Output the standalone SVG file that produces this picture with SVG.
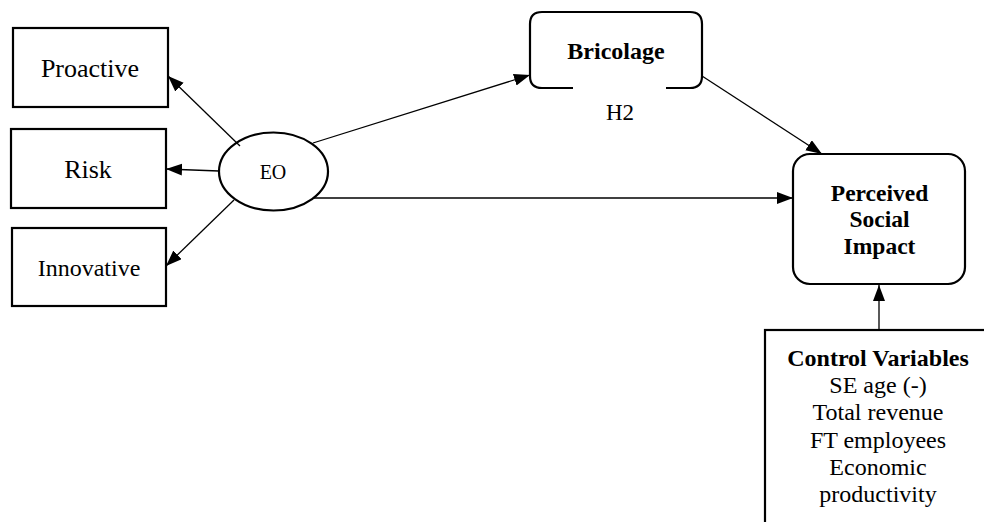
<svg xmlns="http://www.w3.org/2000/svg" width="984" height="522" viewBox="0 0 984 522">
  <style>
    .box { fill: #fff; stroke: #000; stroke-width: 2.2; }
    .edge { stroke: #000; stroke-width: 1.3; fill: none; marker-end: url(#arrow); }
    text { font-family: "Liberation Serif", "Times New Roman", serif; fill: #000; text-anchor: middle; }
    .b { font-weight: bold; }
  </style>
  <defs>
    <marker id="arrow" markerUnits="userSpaceOnUse" markerWidth="18" markerHeight="14" refX="16" refY="6" orient="auto">
      <path d="M0,0 L16,6 L0,12 z" fill="#000"/>
    </marker>
  </defs>

  <!-- indicator boxes -->
  <g id="proactive">
    <rect class="box" x="13" y="28" width="155" height="79"/>
    <text x="90" y="77" font-size="26">Proactive</text>
  </g>
  <g id="risk">
    <rect class="box" x="11" y="129" width="155" height="79"/>
    <text x="88" y="178" font-size="26">Risk</text>
  </g>
  <g id="innovative">
    <rect class="box" x="12" y="228" width="154" height="78"/>
    <text x="89" y="276" font-size="24">Innovative</text>
  </g>

  <!-- latent construct -->
  <g id="eo">
    <ellipse class="box" cx="273.5" cy="171.5" rx="54.5" ry="39"/>
    <text x="273" y="179" font-size="20">EO</text>
  </g>

  <!-- mediator with open bottom edge -->
  <g id="bricolage">
    <path d="M573,88 L542,88 Q530,88 530,76 L530,24 Q530,12 542,12 L690,12 Q702,12 702,24 L702,76 Q702,88 690,88 L666,88" fill="none" stroke="#000" stroke-width="2.2"/>
    <text class="b" x="616" y="59" font-size="24">Bricolage</text>
    <text x="620" y="120" font-size="23">H2</text>
  </g>

  <!-- outcome -->
  <g id="social-impact">
    <rect class="box" x="793" y="154" width="172" height="130" rx="17" ry="17"/>
    <text class="b" x="879.5" y="201" font-size="23.5">Perceived</text>
    <text class="b" x="879.5" y="227" font-size="23.5">Social</text>
    <text class="b" x="879.5" y="254" font-size="23.5">Impact</text>
  </g>

  <!-- controls -->
  <g id="controls">
    <rect class="box" x="765" y="330" width="240" height="220"/>
    <text class="b" x="878" y="366" font-size="24">Control Variables</text>
    <text x="878" y="393" font-size="24">SE age (-)</text>
    <text x="878" y="420" font-size="24">Total revenue</text>
    <text x="878" y="448" font-size="24">FT employees</text>
    <text x="878" y="475" font-size="24">Economic</text>
    <text x="878" y="502" font-size="24">productivity</text>
  </g>

  <!-- connectors -->
  <g id="connectors">
    <line class="edge" x1="240" y1="146" x2="168" y2="76"/>
    <line class="edge" x1="219" y1="171" x2="166" y2="169"/>
    <line class="edge" x1="234" y1="200" x2="166" y2="266"/>
    <line class="edge" x1="313" y1="143" x2="530" y2="75"/>
    <line class="edge" x1="702" y1="76" x2="822" y2="154"/>
    <line class="edge" x1="313" y1="198" x2="793" y2="198"/>
    <line class="edge" x1="879" y1="330" x2="879" y2="285"/>
  </g>
</svg>
